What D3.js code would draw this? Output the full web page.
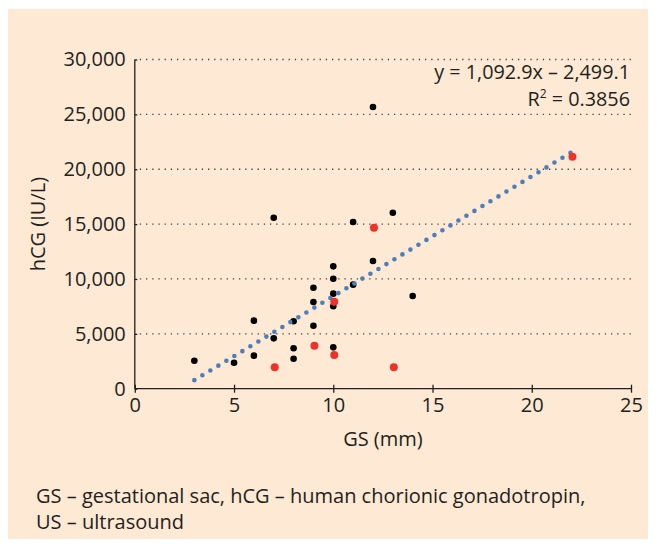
<!DOCTYPE html>
<html>
<head>
<meta charset="utf-8">
<script src="https://cdn.jsdelivr.net/npm/d3@7"></script>
<style>
  body { margin: 0; background: #fff; }
  svg text { font-family: "Open Sans", sans-serif; fill: #231f20; }
</style>
</head>
<body>
<svg id="chart" width="656" height="547"></svg>
<script>
// values
var gsBlack  = [3, 5, 6, 6, 7, 7, 8, 8, 8, 9, 9, 9, 10, 10, 10, 10, 10, 11, 11, 12, 12, 13, 14];
var hcgBlack = [2550, 2370, 6200, 3010, 15580, 4590, 6140, 3680, 2730, 9200, 7900, 5740,
                11150, 10020, 8660, 7510, 3770, 15190, 9480, 25670, 11640, 16040, 8450];
var gsRed  = [7, 9, 10, 10, 12, 13, 22];
var hcgRed = [1950, 3920, 7930, 3070, 14670, 1950, 21140];

// trend line end points (from y = 1,092.9x - 2,499.1)
var trendX = [3, 22];
var trendY = [780, 21545];

var xTicks = [0, 5, 10, 15, 20, 25];
var yTicks = [0, 5000, 10000, 15000, 20000, 25000, 30000];

var eqLine = "y = 1,092.9x \u2013 2,499.1";
var r2Line = "0.3856";
var xTitle = "GS (mm)";
var yTitle = "hCG (IU/L)";
var note1 = "GS \u2013 gestational sac, hCG \u2013 human chorionic gonadotropin,";
var note2 = "US \u2013 ultrasound";

var svg = d3.select("#chart");

// peach panel
svg.append("rect")
    .attr("x", 8).attr("y", 9)
    .attr("width", 640).attr("height", 530)
    .style("fill", "#fde9d4");

var pLeft = 134.8, pRight = 631, pTop = 59.5, pBottom = 388.7;

var xScale = d3.scaleLinear().domain([0, 25]).range([pLeft, pRight]);
var yScale = d3.scaleLinear().domain([0, 30000]).range([pBottom, pTop]);

// dotted gridlines
svg.append("g").selectAll("line")
    .data(yTicks.slice(1))
    .enter().append("line")
    .attr("x1", pLeft + 5)
    .attr("x2", pRight + 1)
    .attr("y1", function (d) { return yScale(d); })
    .attr("y2", function (d) { return yScale(d); })
    .style("stroke", "#444")
    .style("stroke-width", 1.3)
    .style("stroke-dasharray", "1.3 4.9");

// axes
var xAxis = d3.axisBottom(xScale).tickValues(xTicks).tickSize(4).tickPadding(5)
    .tickFormat(d3.format("d"));
var gx = svg.append("g").attr("transform", "translate(0," + pBottom + ")").call(xAxis);
gx.selectAll(".tick line").attr("y1", -4);

var yAxis = d3.axisLeft(yScale).tickValues(yTicks).tickSize(-2.5).tickPadding(9)
    .tickFormat(d3.format(","));
var gy = svg.append("g").attr("transform", "translate(" + pLeft + ",0)").call(yAxis);

[gx, gy].forEach(function (g) {
    g.select(".domain").style("stroke", "#231f20").style("stroke-width", 1.3);
    g.selectAll(".tick line").style("stroke", "#231f20").style("stroke-width", 1.3);
    g.selectAll("text")
        .style("font-family", "'Open Sans', sans-serif")
        .style("font-size", "20px")
        .style("fill", "#231f20");
});
gx.select(".domain").attr("d", "M" + pLeft + ",0H" + pRight);
gy.select(".domain").attr("d", "M0," + pBottom + "V" + pTop);

// black points
svg.append("g").selectAll("circle")
    .data(gsBlack)
    .enter().append("circle")
    .attr("cx", function (d) { return xScale(d); })
    .attr("cy", function (d, i) { return yScale(hcgBlack[i]); })
    .attr("r", 3.3)
    .style("fill", "#000");

// trend line
var trend = trendX.map(function (d, i) { return [d, trendY[i]]; });
var lineGen = d3.line()
    .x(function (d) { return xScale(d[0]); })
    .y(function (d) { return yScale(d[1]); });
svg.append("path")
    .attr("d", lineGen(trend))
    .style("fill", "none")
    .style("stroke", "#4a7ebf")
    .style("stroke-width", 4.6)
    .style("stroke-linecap", "round")
    .style("stroke-dasharray", "0 9.35");

// red points
svg.append("g").selectAll("circle")
    .data(gsRed)
    .enter().append("circle")
    .attr("cx", function (d) { return xScale(d) + 1; })
    .attr("cy", function (d, i) { return yScale(hcgRed[i]); })
    .attr("r", 4)
    .style("fill", "#ee3229");

// equation
svg.append("text")
    .attr("x", 630).attr("y", 78.5)
    .attr("text-anchor", "end")
    .style("font-size", "19.8px")
    .text(eqLine);
var r2 = svg.append("text")
    .attr("x", 630).attr("y", 105.5)
    .attr("text-anchor", "end")
    .style("font-size", "19.8px");
r2.append("tspan").text("R");
r2.append("tspan").attr("dy", -8).style("font-size", "12px").text("2");
r2.append("tspan").attr("dy", 8).text(" = " + r2Line);

// axis titles
svg.append("text")
    .attr("x", xScale(12.5)).attr("y", 446)
    .attr("text-anchor", "middle")
    .style("font-size", "20px")
    .text(xTitle);
svg.append("text")
    .attr("transform", "translate(45," + ((pTop + pBottom) / 2) + ") rotate(-90)")
    .attr("text-anchor", "middle")
    .style("font-size", "20px")
    .text(yTitle);

// footnote
svg.append("text").attr("x", 36).attr("y", 503)
    .style("font-size", "20px").text(note1);
svg.append("text").attr("x", 36).attr("y", 529)
    .style("font-size", "20px").text(note2);
</script>
</body>
</html>
